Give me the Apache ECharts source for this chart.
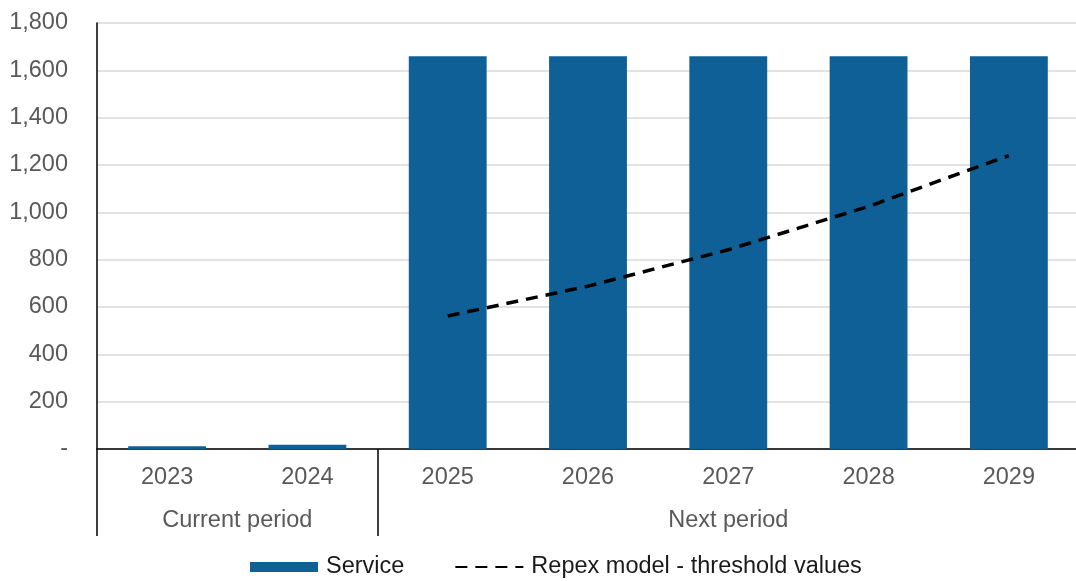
<!DOCTYPE html>
<html>
<head>
<meta charset="utf-8">
<script src="https://cdn.jsdelivr.net/npm/echarts@6/dist/echarts.min.js"></script>
<style>
html,body{margin:0;padding:0;background:#fff;}
#c{width:1076px;height:581px;}
</style>
</head>
<body>
<div id="c"></div>
<script>
var categories = ['2023', '2024', '2025', '2026', '2027', '2028', '2029'];
var serviceValues = [12, 18, 1660, 1660, 1660, 1660, 1660];
var thresholdValues = [null, null, 562, 688, 842, 1025, 1240];
var periodLabels = ['Current period', 'Next period'];
var periodSpans = [2, 5];
var seriesNames = ['Service', 'Repex model - threshold values'];

var periodCenters = [];
var boundaries = [0];
var acc = 0;
periodSpans.forEach(function (s) { periodCenters.push(acc + s / 2); acc += s; boundaries.push(acc); });

var FONT = 'Liberation Sans, Arial, sans-serif';
var FS = 23.5;
var chart = echarts.init(document.getElementById('c'), null, {renderer: 'canvas'});
chart.setOption({
  animation: false,
  backgroundColor: '#fff',
  grid: {left: 97, top: 23, width: 982, height: 426, containLabel: false, outerBoundsMode: 'none'},
  legend: {
    left: 250, top: 555, padding: 0,
    itemWidth: 68, itemHeight: 10, itemGap: 50,
    textStyle: {fontFamily: FONT, fontSize: FS, color: '#1a1a1a', padding: [0, 0, 0, 3]},
    data: [
      {name: seriesNames[0], icon: 'rect'},
      {name: seriesNames[1], itemStyle: {color: 'rgba(0,0,0,0)', borderWidth: 0, opacity: 0}}
    ]
  },
  xAxis: [{
    type: 'category',
    data: categories,
    boundaryGap: true,
    axisLine: {show: true, lineStyle: {color: '#000', width: 1.5}},
    axisTick: {
      show: true, length: 87, inside: false,
      interval: function (idx) { return boundaries.indexOf(idx) >= 0; },
      lineStyle: {color: '#000', width: 1.5}
    },
    axisLabel: {fontFamily: FONT, fontSize: FS, color: '#595959', margin: 17},
    splitLine: {show: false}
  }, {
    type: 'value',
    position: 'bottom',
    offset: 42,
    min: 0, max: categories.length, interval: 0.5,
    axisLine: {show: false},
    axisTick: {show: false},
    splitLine: {show: false},
    axisLabel: {
      fontFamily: FONT, fontSize: FS, color: '#595959', margin: 18,
      showMinLabel: true, showMaxLabel: true,
      formatter: function (v) {
        for (var i = 0; i < periodCenters.length; i++) {
          if (Math.abs(v - periodCenters[i]) < 1e-6) return periodLabels[i];
        }
        return '';
      }
    }
  }],
  yAxis: {
    type: 'value',
    min: 0, max: 1800, interval: 200,
    axisLine: {show: true, lineStyle: {color: '#000', width: 1.5}},
    axisTick: {show: false},
    axisLabel: {
      fontFamily: FONT, fontSize: FS, color: '#595959', margin: 29,
      formatter: function (v) { return v === 0 ? '-' : v.toLocaleString('en-US'); }
    },
    splitLine: {show: true, lineStyle: {color: '#D9D9D9', width: 1.5}}
  },
  series: [{
    name: seriesNames[0],
    type: 'bar',
    data: serviceValues,
    barCategoryGap: '44.5%',
    itemStyle: {color: '#0E6096'}
  }, {
    name: seriesNames[1],
    type: 'line',
    data: thresholdValues,
    symbol: 'none',
    lineStyle: {color: '#000', width: 3.5, type: [12, 8]},
    itemStyle: {color: '#000'}
  }]
});
</script>
</body>
</html>
